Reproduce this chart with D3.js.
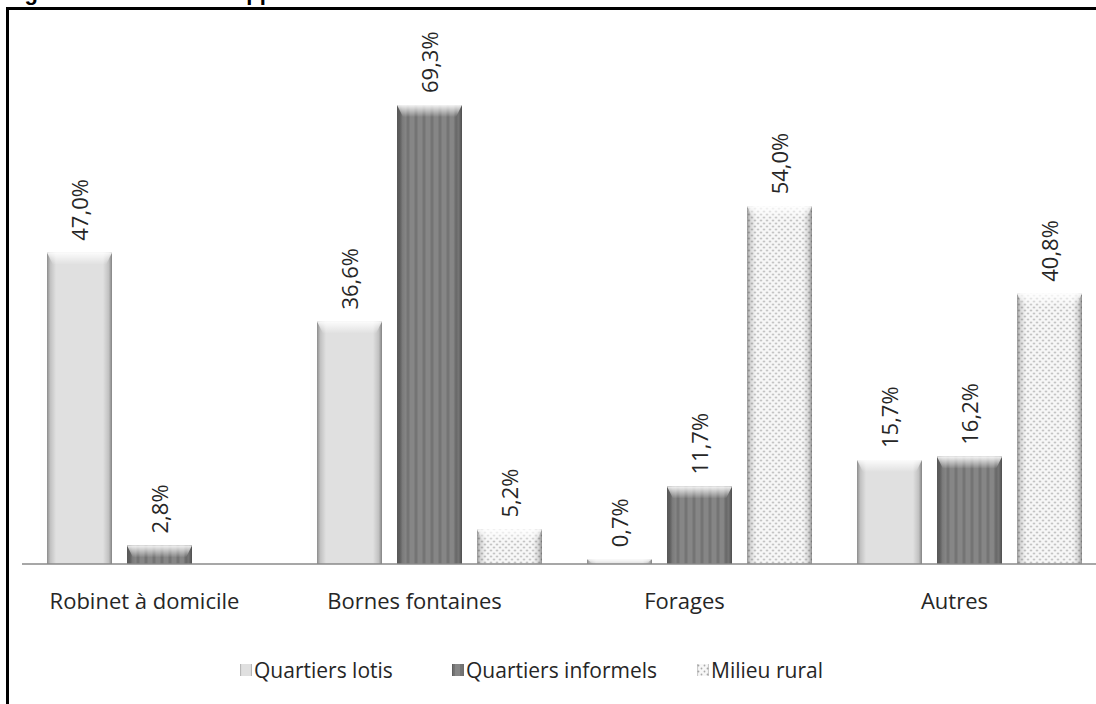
<!DOCTYPE html>
<html>
<head>
<meta charset="utf-8">
<script src="https://cdn.jsdelivr.net/npm/d3@7"></script>
<style>
  html, body { margin: 0; padding: 0; background: #fff; overflow: hidden; }
  svg { display: block; }
</style>
</head>
<body>
<svg id="chart" width="1096" height="704"></svg>
<script>
// data
const categories = ["Robinet à domicile", "Bornes fontaines", "Forages", "Autres"];
const seriesNames = ["Quartiers lotis", "Quartiers informels", "Milieu rural"];
const lotis = [47.0, 36.6, 0.7, 15.7];
const informels = [2.8, 69.3, 11.7, 16.2];
const rural = [null, 5.2, 54.0, 40.8];
const titleText = "Figure 13 : Sources d'approvisionnement en eau selon le milieu";

const svg = d3.select("#chart");
const W = 1096, H = 704;
const baseY = 564;

const x0 = d3.scaleBand().domain(categories).range([24.5, 1104.5]);
const x1 = d3.scaleBand().domain(seriesNames).range([22.5, 247.5]).paddingInner(0.1875);
const y = d3.scaleLinear().domain([0, 80]).range([baseY, baseY - 80 * 6.623]);

const fmt = v => d3.format(".1f")(v).replace(".", ",") + "%";

// patterns and gradients
const defs = svg.append("defs");

const stripes = defs.append("pattern")
    .attr("id", "pat-inf").attr("patternUnits", "userSpaceOnUse")
    .attr("width", 8).attr("height", 8);
stripes.append("rect").attr("width", 8).attr("height", 8).attr("fill", "#868686");
stripes.append("rect").attr("x", 0).attr("width", 3).attr("height", 8).attr("fill", "#747474");

const dots = defs.append("pattern")
    .attr("id", "pat-rur").attr("patternUnits", "userSpaceOnUse")
    .attr("width", 6).attr("height", 6);
dots.append("rect").attr("width", 6).attr("height", 6).attr("fill", "#f7f7f7");
dots.append("circle").attr("cx", 1.5).attr("cy", 1.5).attr("r", 0.9).attr("fill", "#aaaaaa");
dots.append("circle").attr("cx", 4.5).attr("cy", 4.5).attr("r", 0.9).attr("fill", "#aaaaaa");

const edge = defs.append("linearGradient").attr("id", "edge")
    .attr("x1", "0%").attr("x2", "100%").attr("y1", "0%").attr("y2", "0%");
[[0, 0.38], [0.05, 0.14], [0.14, 0], [0.86, 0], [0.95, 0.14], [1, 0.42]].forEach(s => {
  edge.append("stop").attr("offset", s[0]).attr("stop-color", "#000").attr("stop-opacity", s[1]);
});

const cap = defs.append("linearGradient").attr("id", "cap")
    .attr("x1", "0%").attr("x2", "0%").attr("y1", "0%").attr("y2", "100%");
cap.append("stop").attr("offset", 0).attr("stop-color", "#fff").attr("stop-opacity", 0.9);
cap.append("stop").attr("offset", 1).attr("stop-color", "#fff").attr("stop-opacity", 0);

const fills = {
  "Quartiers lotis": "#e0e0e0",
  "Quartiers informels": "url(#pat-inf)",
  "Milieu rural": "url(#pat-rur)"
};

// title, cut by the top edge: only the descenders show
svg.append("text")
    .attr("x", 5).attr("y", 0)
    .style("font-family", "'Liberation Sans', Arial, sans-serif")
    .style("font-weight", "bold")
    .style("font-size", "22px")
    .attr("fill", "#000")
    .text(titleText);

// frame
svg.append("rect")
    .attr("x", 7.5).attr("y", 8.5)
    .attr("width", W + 20).attr("height", H + 20)
    .attr("fill", "none").attr("stroke", "#000").attr("stroke-width", 3);

// bars
const rows = categories.map((c, i) => ({
  cat: c,
  vals: [lotis[i], informels[i], rural[i]]
}));

const groups = svg.append("g").selectAll("g")
  .data(rows).join("g")
    .attr("transform", d => `translate(${x0(d.cat)},0)`);

const bars = groups.selectAll("g.bar")
  .data(d => d.vals.map((v, j) => ({ key: seriesNames[j], v }))
                   .filter(e => e.v != null))
  .join("g").attr("class", "bar");

bars.append("rect")
    .attr("x", d => x1(d.key)).attr("y", d => y(d.v))
    .attr("width", x1.bandwidth()).attr("height", d => baseY - y(d.v))
    .attr("fill", d => fills[d.key]);

bars.append("rect")
    .attr("x", d => x1(d.key)).attr("y", d => y(d.v))
    .attr("width", x1.bandwidth()).attr("height", d => baseY - y(d.v))
    .attr("fill", "url(#edge)");

bars.append("path")
    .attr("d", d => {
      const x = x1(d.key), w = x1.bandwidth(), t = y(d.v);
      const h = Math.min(12, baseY - t);
      return `M${x},${t}H${x + w}L${x + w - 6},${t + h}H${x + 6}Z`;
    })
    .attr("fill", "url(#cap)");

// value labels
bars.append("text")
    .attr("transform", d => `translate(${x1(d.key) + x1.bandwidth() / 2 + 8},${y(d.v) - 12}) rotate(-90)`)
    .style("font-family", "'Open Sans', sans-serif")
    .style("font-size", "22px")
    .attr("fill", "#262626")
    .text(d => fmt(d.v));

// baseline
svg.append("line")
    .attr("x1", 22).attr("x2", W).attr("y1", baseY).attr("y2", baseY)
    .attr("stroke", "#8a8a8a").attr("stroke-width", 1.5);

// category labels
svg.append("g").selectAll("text")
  .data(categories).join("text")
    .attr("x", d => x0(d) + x0.bandwidth() / 2 - 15)
    .attr("y", 609)
    .attr("text-anchor", "middle")
    .style("font-family", "'Open Sans', sans-serif")
    .style("font-size", "22px")
    .attr("fill", "#262626")
    .text(d => d);

// legend
const legend = svg.append("g").attr("transform", "translate(0,670)");
const legX = [240, 452, 697];
const items = legend.selectAll("g")
  .data(seriesNames).join("g")
    .attr("transform", (d, i) => `translate(${legX[i]},0)`);

items.append("rect")
    .attr("x", 0).attr("y", -6).attr("width", 12).attr("height", 12)
    .attr("fill", d => fills[d]);
items.append("rect")
    .attr("x", 0).attr("y", -6).attr("width", 12).attr("height", 12)
    .attr("fill", "url(#edge)");

items.append("text")
    .attr("x", 14).attr("y", 8)
    .style("font-family", "'Open Sans', sans-serif")
    .style("font-size", "21px")
    .attr("fill", "#262626")
    .text(d => d);
</script>
</body>
</html>
